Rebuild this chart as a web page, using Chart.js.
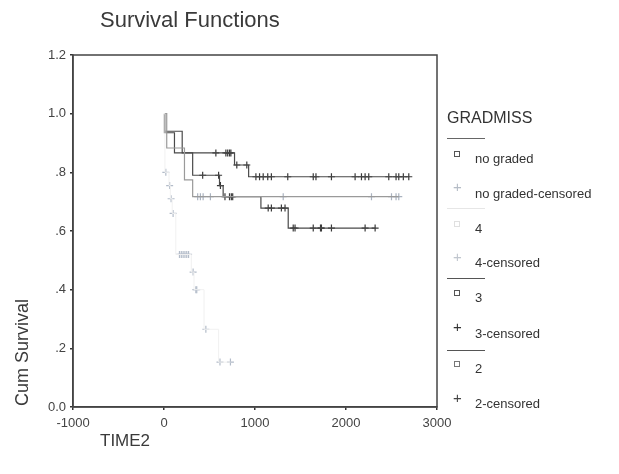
<!DOCTYPE html>
<html>
<head>
<meta charset="utf-8">
<script src="https://cdn.jsdelivr.net/npm/chart.js@4"></script>
<style>
  html, body { margin: 0; padding: 0; background: #fff; }
  #wrap { position: relative; width: 619px; height: 474px; font-family: "Liberation Sans", Arial, sans-serif; color: #333; }
  #wrap canvas { position: absolute; left: 0; top: 0; }
  .txt { position: absolute; white-space: nowrap; line-height: 1; }
  .leg { position: absolute; font-size: 13px; line-height: 1; color: #333; white-space: nowrap; }
  .sep { position: absolute; left: 447px; width: 38px; height: 0; border-top: 1px solid #555; }
  .sq { position: absolute; width: 4px; height: 4px; border: 1px solid #555; }
  .pl { position: absolute; font-size: 15px; line-height: 1; }
</style>
</head>
<body>
<div id="wrap">
  <canvas id="chart" width="619" height="474"></canvas>
  <div class="txt" style="left:100px; top:9px; font-size:22px; color:#3a3a3a;">Survival Functions</div>
  <div class="txt" style="left:100px; top:432px; font-size:17px; color:#3a3a3a;">TIME2</div>
  <div class="txt" style="left:13px; top:406px; font-size:18px; color:#3a3a3a; transform-origin:0 0; transform:rotate(-90deg);">Cum Survival</div>

  <div class="txt" style="left:447px; top:110px; font-size:16px; color:#333;">GRADMISS</div>
  <div class="sep" style="top:138px; border-color:#666;"></div>
  <div class="sq" style="left:454px; top:151px;"></div>
  <div class="leg" style="left:475px; top:152px;">no graded</div>
  <div class="pl" style="left:453px; top:179px; color:#b5bcc6;">+</div>
  <div class="leg" style="left:475px; top:187px;">no graded-censored</div>
  <div class="sep" style="top:208px; border-color:#e6e6e6;"></div>
  <div class="sq" style="left:454px; top:221px; border-color:#e0e0e0;"></div>
  <div class="leg" style="left:475px; top:222px;">4</div>
  <div class="pl" style="left:453px; top:249px; color:#c0c6ce;">+</div>
  <div class="leg" style="left:475px; top:256px;">4-censored</div>
  <div class="sep" style="top:278px;"></div>
  <div class="sq" style="left:454px; top:290px;"></div>
  <div class="leg" style="left:475px; top:291px;">3</div>
  <div class="pl" style="left:453px; top:319px; color:#333;">+</div>
  <div class="leg" style="left:475px; top:327px;">3-censored</div>
  <div class="sep" style="top:350px;"></div>
  <div class="sq" style="left:454px; top:361px; border-color:#777;"></div>
  <div class="leg" style="left:475px; top:362px;">2</div>
  <div class="pl" style="left:453px; top:390px; color:#444;">+</div>
  <div class="leg" style="left:475px; top:397px;">2-censored</div>
</div>
<script>
// axis ticks
const xTicks = [-1000, 0, 1000, 2000, 3000];
const yTicks = [0, 0.2, 0.4, 0.6, 0.8, 1.0, 1.2];

// GRADMISS = no graded
const timesNoGraded = [30, 225, 315];
const survNoGraded = [0.883, 0.774, 0.717];
const censNoGraded = [370, 400, 430, 510, 1310, 2280, 2500, 2550, 2580];

// GRADMISS = 4
const times4 = [10, 55, 70, 90, 130, 300, 330, 440, 600];
const surv4 = [0.80, 0.755, 0.71, 0.66, 0.52, 0.46, 0.40, 0.265, 0.153];
const cens4 = [20, 62, 78, 100, 170, 190, 210, 230, 250, 270, 320, 350, 360, 460, 615, 730];

// GRADMISS = 3
const times3 = [10, 200, 775, 930];
const surv3 = [0.94, 0.866, 0.825, 0.785];
const cens3 = [570, 680, 700, 720, 735, 800, 910, 1010, 1050, 1090, 1140, 1180, 1360,
               1640, 1670, 1840, 2100, 2170, 2210, 2250, 2470, 2550, 2580, 2630, 2690];

// GRADMISS = 2
const times2 = [5, 115, 315, 610, 650, 1065, 1365];
const surv2 = [0.935, 0.866, 0.79, 0.755, 0.717, 0.678, 0.61];
const cens2 = [425, 600, 620, 670, 720, 740, 755, 1145, 1180, 1290, 1330, 1420, 1440,
               1640, 1720, 1730, 1840, 2210, 2320];

function survAt(times, surv, t) {
  let s = 1;
  for (let i = 0; i < times.length; i++) if (times[i] <= t) s = surv[i];
  return s;
}
function stepPoints(times, surv, cens) {
  const pts = [{ x: 0, y: 1 }];
  times.forEach((t, i) => pts.push({ x: t, y: surv[i] }));
  const end = Math.max(...cens, ...times);
  pts.push({ x: end, y: survAt(times, surv, end) });
  return pts;
}
function censPoints(times, surv, cens) {
  return cens.map(t => ({ x: t, y: survAt(times, surv, t) }));
}

function lineSet(times, surv, cens, color, w) {
  return { type: 'line', data: stepPoints(times, surv, cens), stepped: true,
           borderColor: color, borderWidth: w, pointRadius: 0, fill: false };
}
function censSet(times, surv, cens, color) {
  return { type: 'scatter', data: censPoints(times, surv, cens), showLine: false,
           pointStyle: 'cross', pointRadius: 3.5, pointBorderColor: color,
           pointBorderWidth: 1.2, borderColor: color };
}

const frame = {
  id: 'frame',
  afterDatasetsDraw(chart) {
    const a = chart.chartArea, c = chart.ctx;
    c.save();
    c.strokeStyle = '#444';
    c.lineWidth = 1.5;
    c.strokeRect(a.left, a.top, a.right - a.left, a.bottom - a.top);
    c.restore();
  }
};

new Chart(document.getElementById('chart'), {
  data: {
    datasets: [
      lineSet(times4, surv4, cens4, '#f1f1f1', 1),
      lineSet(timesNoGraded, survNoGraded, censNoGraded, '#9a9a9a', 1.2),
      lineSet(times2, surv2, cens2, '#4a4a4a', 1.2),
      lineSet(times3, surv3, cens3, '#4a4a4a', 1.2),
      censSet(times4, surv4, cens4, '#b3bcc9'),
      censSet(timesNoGraded, survNoGraded, censNoGraded, '#aab3c0'),
      censSet(times2, surv2, cens2, '#3a3a3a'),
      censSet(times3, surv3, cens3, '#3a3a3a')
    ]
  },
  options: {
    responsive: false,
    animation: false,
    layout: { padding: { left: 0, right: 182, top: 55, bottom: 0 } },
    plugins: { legend: { display: false }, tooltip: { enabled: false } },
    scales: {
      x: {
        type: 'linear', min: xTicks[0], max: xTicks[xTicks.length - 1],
        afterBuildTicks: s => { s.ticks = xTicks.map(v => ({ value: v })); },
        afterFit: s => { s.height = 67; },
        grid: { drawOnChartArea: false, tickLength: 3, color: '#333', lineWidth: 1.5 },
        border: { color: '#444', width: 1.5 },
        ticks: { padding: 6, color: '#444', font: { size: 13, family: 'Liberation Sans' }, maxRotation: 0,
                 callback: v => String(v) }
      },
      y: {
        type: 'linear', min: yTicks[0], max: yTicks[yTicks.length - 1],
        afterBuildTicks: s => { s.ticks = yTicks.map(v => ({ value: v })); },
        afterFit: s => { s.width = 73; },
        grid: { drawOnChartArea: false, tickLength: 3, color: '#333', lineWidth: 1.5 },
        border: { color: '#444', width: 1.5 },
        ticks: {
          padding: 4, color: '#444', font: { size: 13, family: 'Liberation Sans' },
          callback: v => {
            const s = (Math.round(v * 10) / 10).toFixed(1);
            return (v > 0 && v < 1) ? s.slice(1) : s;
          }
        }
      }
    }
  },
  plugins: [frame]
});
</script>
</body>
</html>
